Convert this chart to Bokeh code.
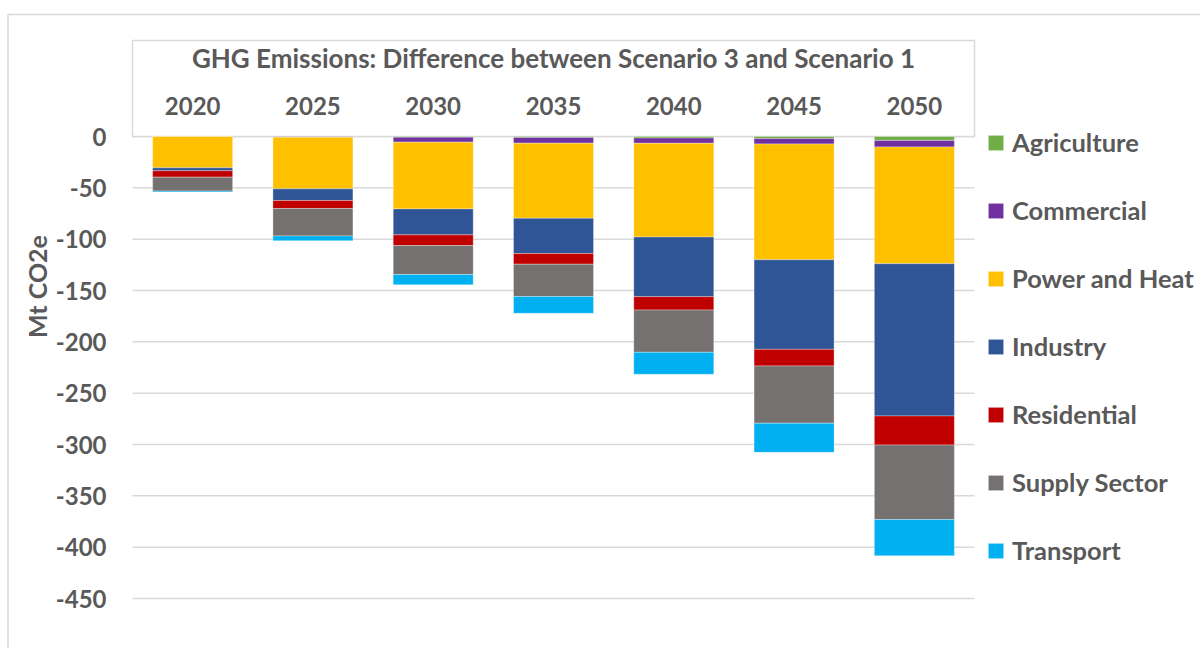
import math
from bokeh.plotting import figure
from bokeh.models import (ColumnDataSource, Range1d, Legend, LegendItem, Label,
                          FixedTicker, PrintfTickFormatter)
from bokeh.embed import file_html
from bokeh.resources import INLINE

# ---------------- data ----------------
years = ["2020", "2025", "2030", "2035", "2040", "2045", "2050"]
agriculture = [0.0, -0.3, -0.7, -1.0, -1.5, -2.0, -3.8]
commercial = [0.0, -0.5, -4.8, -5.5, -5.1, -5.3, -6.4]
power_heat = [-30.5, -50.2, -65.0, -73.1, -91.3, -112.7, -113.7]
industry = [-2.9, -11.3, -25.3, -34.4, -58.1, -87.3, -148.3]
residential = [-6.2, -7.8, -10.4, -10.4, -13.0, -16.2, -28.3]
supply_sector = [-13.6, -26.8, -28.2, -31.4, -41.2, -55.8, -72.5]
transport = [-0.8, -4.6, -10.1, -16.3, -21.4, -28.3, -35.4]

series_names = ["Agriculture", "Commercial", "Power and Heat", "Industry",
                "Residential", "Supply Sector", "Transport"]
series_colors = ["#70AD47", "#7030A0", "#FFC000", "#2F5597",
                 "#C00000", "#767171", "#00B0F0"]
y_ticks = [0, -50, -100, -150, -200, -250, -300, -350, -400, -450]
chart_title = "GHG Emissions: Difference between Scenario 3 and Scenario 1"
y_title = "Mt CO2e"

# ---------------- layout (pixels) ----------------
W, H = 1200, 648
BAND_L, BAND_R = 132, 974      # horizontal extent of the category bands
ZERO_PX = 136                   # vertical pixel of value 0
K = 1.0267                      # pixels per Mt
n = len(years)
ux = n / (BAND_R - BAND_L)
x_start = -0.5 - BAND_L * ux
x_end = x_start + W * ux
y_end = ZERO_PX / K
y_start = y_end - H / K


def fx(px):
    return x_start + px * ux


def fy(py):
    return y_end - py / K


FONT = "Lato"
TXT = "#595959"
GRID = "#D9D9D9"

positions = list(range(n))
source = ColumnDataSource(dict(
    x=positions,
    **{"Agriculture": agriculture, "Commercial": commercial,
       "Power and Heat": power_heat, "Industry": industry,
       "Residential": residential, "Supply Sector": supply_sector,
       "Transport": transport}))

p = figure(width=W, height=H, output_backend="svg", toolbar_location=None,
           x_range=Range1d(x_start, x_end), y_range=Range1d(y_start, y_end),
           x_axis_location="above", title=None,
           min_border_left=0, min_border_right=0, min_border_top=0, min_border_bottom=0)
p.outline_line_color = None
p.background_fill_color = "white"
p.border_fill_color = "white"
p.xgrid.visible = False
p.ygrid.visible = False

# outer chart border (left and top)
p.line(x=[fx(7.5), fx(7.5), fx(W + 5)], y=[fy(H + 5), fy(14), fy(14)],
       line_color=GRID, line_width=1.5)

# horizontal gridlines over the plot area
p.segment(x0=[-0.5] * len(y_ticks), x1=[n - 0.5] * len(y_ticks), y0=y_ticks, y1=y_ticks,
          line_color=GRID, line_width=1.5)

# title / category box
p.quad(left=-0.5, right=n - 0.5, bottom=0, top=fy(40), fill_color="white",
       line_color=GRID, line_width=1.5)

# bars
renderers = p.vbar_stack(series_names, x="x", width=80 * ux, color=series_colors,
                         source=source, line_color="white", line_width=0.7, line_alpha=0.45)

# y axis
yax = p.yaxis[0]
yax.fixed_location = -0.5
yax.ticker = FixedTicker(ticks=y_ticks)
yax.formatter = PrintfTickFormatter(format="%d")
yax.axis_line_color = None
yax.major_tick_line_color = None
yax.minor_tick_line_color = None
yax.major_tick_out = 0
yax.major_tick_in = 0
yax.major_label_standoff = 26
yax.major_label_text_font = FONT
yax.major_label_text_font_size = "24px"
yax.major_label_text_font_style = "bold"
yax.major_label_text_color = TXT

# x axis (category labels inside the box)
xax = p.xaxis[0]
xax.fixed_location = 0
xax.ticker = FixedTicker(ticks=positions)
xax.major_label_overrides = {i: y for i, y in zip(positions, years)}
xax.axis_line_color = None
xax.major_tick_line_color = None
xax.minor_tick_line_color = None
xax.major_label_standoff = 16
xax.major_label_text_font = FONT
xax.major_label_text_font_size = "24px"
xax.major_label_text_font_style = "bold"
xax.major_label_text_color = TXT

# chart title and axis title
p.add_layout(Label(x=(n - 1) / 2, y=fy(57), text=chart_title, text_align="center",
                   text_baseline="middle", text_font=FONT, text_font_size="26px",
                   text_font_style="bold", text_color=TXT))
p.add_layout(Label(x=fx(36), y=fy(286), text=y_title, angle=math.pi / 2,
                   text_align="center", text_baseline="middle", text_font=FONT,
                   text_font_size="25px", text_font_style="bold", text_color=TXT))

# legend
legend = Legend(items=[LegendItem(label=s, renderers=[r]) for s, r in zip(series_names, renderers)],
                location=(986, H - 566), orientation="vertical", padding=0, margin=0,
                spacing=36, glyph_width=19, glyph_height=19, label_standoff=7,
                label_height=32, border_line_color=None, background_fill_alpha=0,
                label_text_font=FONT, label_text_font_size="25.5px",
                label_text_font_style="bold", label_text_color=TXT)
p.add_layout(legend)

open("out.html", "w").write(file_html(p, INLINE))
